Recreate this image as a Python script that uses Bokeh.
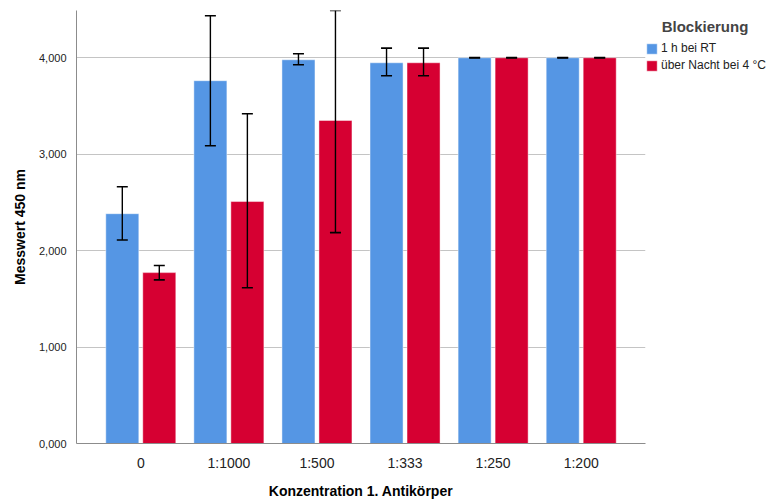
import numpy as np
from bokeh.plotting import figure
from bokeh.models import (ColumnDataSource, Range1d, FixedTicker, Whisker,
                          TeeHead, Legend, LegendItem)
from bokeh.embed import file_html
from bokeh.resources import INLINE

categories = ["0", "1:1000", "1:500", "1:333", "1:250", "1:200"]
series_names = ["1 h bei RT", "über Nacht bei 4 °C"]

rt_mean = [2.383, 3.762, 3.979, 3.948, 4.000, 4.000]
rt_low = [2.110, 3.088, 3.927, 3.813, 3.997, 3.997]
rt_high = [2.663, 4.435, 4.041, 4.100, 4.003, 4.003]

night_mean = [1.772, 2.509, 3.350, 3.948, 4.000, 4.000]
night_low = [1.697, 1.615, 2.187, 3.813, 3.997, 3.997]
night_high = [1.845, 3.420, 4.490, 4.100, 4.003, 4.003]

y_ticks = [0, 1, 2, 3, 4]
y_tick_labels = ["0,000", "1,000", "2,000", "3,000", "4,000"]

blue = "#5596E4"
red = "#D60032"
font = "Liberation Sans"

x = np.arange(len(categories))
offset = 0.21
bar_w = 0.375

src_rt = ColumnDataSource(dict(x=x - offset, top=rt_mean, low=rt_low, high=rt_high))
src_nt = ColumnDataSource(dict(x=x + offset, top=night_mean, low=night_low, high=night_high))

p = figure(frame_width=569, frame_height=433, output_backend="svg", toolbar_location=None,
           x_range=Range1d(-0.73, len(categories) - 1 + 0.73),
           y_range=Range1d(0, 4.49))
p.min_border_left = 76
p.min_border_top = 10
p.min_border_bottom = 59
p.min_border_right = 0
p.outline_line_color = None

r1 = p.vbar(x="x", top="top", width=bar_w, source=src_rt, fill_color=blue,
            line_color="white", line_alpha=0.45, line_width=1)
r2 = p.vbar(x="x", top="top", width=bar_w, source=src_nt, fill_color=red,
            line_color="white", line_alpha=0.45, line_width=1)

for src in (src_rt, src_nt):
    w = Whisker(base="x", lower="low", upper="high", source=src, level="overlay",
                line_color="black", line_width=1.4,
                upper_head=TeeHead(size=11, line_color="black", line_width=1.6),
                lower_head=TeeHead(size=11, line_color="black", line_width=1.6))
    p.add_layout(w)

# axes
p.xaxis.ticker = FixedTicker(ticks=list(x))
p.xaxis.major_label_overrides = {int(i): c for i, c in zip(x, categories)}
p.yaxis.ticker = FixedTicker(ticks=y_ticks)
p.yaxis.major_label_overrides = {t: l for t, l in zip(y_ticks, y_tick_labels)}

for ax in (p.xaxis, p.yaxis):
    ax.axis_line_color = "#8c8c8c"
    ax.axis_line_width = 1
    ax.major_tick_line_color = None
    ax.minor_tick_line_color = None
    ax.major_label_text_font = font
    ax.major_label_text_color = "#222222"
    ax.axis_label_text_font = font
    ax.axis_label_text_font_style = "bold"
    ax.axis_label_text_color = "#000000"
    ax.axis_label_text_font_size = "14px"

p.xaxis.major_label_text_font_size = "14px"
p.yaxis.major_label_text_font_size = "11px"
p.xaxis.major_label_standoff = 5
p.yaxis.major_label_standoff = 4
p.xaxis.axis_label = "Konzentration 1. Antikörper"
p.yaxis.axis_label = "Messwert 450 nm"
p.xaxis.axis_label_standoff = 9
p.yaxis.axis_label_standoff = 8

p.xgrid.grid_line_color = None
p.ygrid.grid_line_color = "#c4c4c4"
p.ygrid.grid_line_width = 1

legend = Legend(items=[LegendItem(label=series_names[0], renderers=[r1]),
                       LegendItem(label=series_names[1], renderers=[r2])],
                location=(0, 371))
legend.title = "\u00a0\u00a0\u00a0\u00a0Blockierung"
legend.title_text_font = font
legend.title_text_font_style = "bold"
legend.title_text_font_size = "15px"
legend.title_standoff = 6
legend.label_text_font = font
legend.label_text_font_size = "12px"
legend.label_text_color = "#222222"
legend.glyph_width = 13
legend.glyph_height = 13
legend.label_standoff = 3
legend.spacing = 3
legend.padding = 3
legend.margin = 0
legend.border_line_color = None
legend.background_fill_alpha = 0
p.add_layout(legend, "right")

open("out.html", "w").write(file_html(p, INLINE))
